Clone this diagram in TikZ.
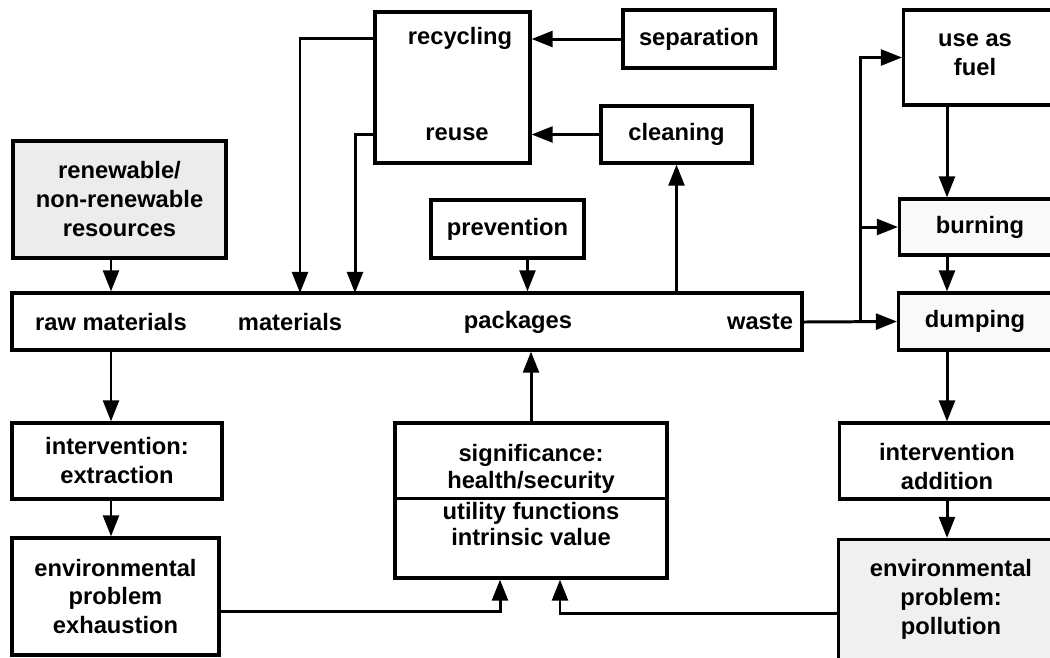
\documentclass[tikz,border=0pt]{standalone}
\usepackage{fontspec}
\setmainfont{Liberation Sans}
\usetikzlibrary{arrows.meta}

\begin{document}
\begin{tikzpicture}[x=0.02cm, y=-0.02cm,
    box/.style={draw, line width=1.8pt, rectangle, inner sep=0pt},
    txt/.style={font=\bfseries\fontsize{13.5}{16.5}\selectfont, align=center},
    arr/.style={line width=1.7pt, -{Triangle[length=12pt, width=9pt]}}]
    \useasboundingbox (0,0) rectangle (1050,657);

    % Top: recovery loop
    \node[box, minimum width=3.1cm, minimum height=3.02cm] (recycle) at (452.5,87.5) {};
    \node[txt] (recycling) at (460,38) {recycling};
    \node[txt] (reuse) at (457,134) {reuse};
    \node[box, txt, minimum width=3.04cm, minimum height=1.16cm] (separation) at (699,39) {separation};
    \node[box, txt, minimum width=3.02cm, minimum height=1.14cm] (cleaning) at (676.5,134.5) {cleaning};
    \node[box, txt, minimum width=3.06cm, minimum height=1.16cm] (prevention) at (507.5,229) {prevention};
    \node[box, txt, line width=2.4pt, fill=gray!15, minimum width=4.26cm, minimum height=2.34cm] (resources) at (119.5,199.5) {renewable/\\non-renewable\\resources};

    % Product chain
    \node[box, minimum width=15.8cm, minimum height=1.14cm] (chain) at (407,321.5) {};
    \node[txt] (raw) at (111,322) {raw materials};
    \node[txt] (materials) at (290,322) {materials};
    \node[txt] (packages) at (518,322) {packages};
    \node[txt] (waste) at (760,322) {waste};

    % Right: waste treatment
    \node[box, anchor=west, minimum width=3.36cm, minimum height=1.9cm] (fuelbox) at (902,57.5) {};
    \node[txt] (fuel) at (975,55) {use as\\fuel};
    \node[box, fill=gray!5, anchor=west, minimum width=3.24cm, minimum height=1.12cm] (burnbox) at (898,227) {};
    \node[txt] (burning) at (980,227) {burning};
    \node[box, fill=gray!5, anchor=west, minimum width=3.26cm, minimum height=1.14cm] (dumpbox) at (897,321.5) {};
    \node[txt] (dumping) at (975,321) {dumping};
    \node[box, anchor=west, minimum width=4.44cm, minimum height=1.52cm] (addbox) at (838,461) {};
    \node[txt] (addition) at (947,467) {intervention\\addition};
    \node[box, fill=gray!12, anchor=north west, minimum width=4.5cm, minimum height=2.7cm] (pollbox) at (837,538) {};
    \node[txt] (pollution) at (951,599) {environmental\\problem:\\pollution};

    % Bottom left and middle
    \node[box, txt, minimum width=4.2cm, minimum height=1.52cm] (extraction) at (117,461) {intervention:\\extraction};
    \node[box, txt, minimum width=4.14cm, minimum height=2.34cm] (exhaustion) at (115.5,596.5) {environmental\\problem\\exhaustion};
    \node[box, minimum width=5.44cm, minimum height=3.1cm] (significance) at (531,500.5) {};
    \node[txt, font=\bfseries\fontsize{13.5}{15}\selectfont] (sigtop) at (531,469) {significance:\\health/security};
    \node[txt, font=\bfseries\fontsize{13.5}{15}\selectfont] (sigbottom) at (531,524) {utility functions\\intrinsic value};
    \draw[line width=1.7pt] ([yshift=0.05cm]significance.west) -- ([yshift=0.05cm]significance.east);

    % Connectors
    \coordinate (mat1) at (300,293);
    \coordinate (mat2) at (355,293);
    \draw[arr] (recycle.west |- recycling) -| (mat1);
    \draw[arr] (recycle.west |- reuse) -| (mat2);
    \draw[arr] (separation.west) -- (separation.west -| recycle.east);
    \draw[arr] (cleaning.west) -- (cleaning.west -| recycle.east);
    \draw[arr] (cleaning.south |- chain.north) -- (cleaning.south);
    \draw[arr] ([xshift=0.4cm]prevention.south) -- ([xshift=0.4cm]prevention.south |- chain.north);
    \draw[arr] (raw |- resources.south) -- (raw |- chain.north);
    \draw[arr] (raw |- chain.south) -- (raw |- extraction.north);
    \draw[arr] (raw |- extraction.south) -- (raw |- exhaustion.north);
    \draw[arr] (significance.north) -- (significance.north |- chain.south);
    \draw[arr] ([yshift=-0.3cm]exhaustion.east) -| ([xshift=-0.62cm]significance.south);
    \draw[arr] ([yshift=-0.13cm]pollbox.west) -| ([xshift=0.58cm]significance.south);

    % Waste routes
    \coordinate (split) at (860,321.5);
    \draw[arr] (chain.east |- waste) -- (dumpbox.west);
    \draw[arr] (split) |- (fuelbox.west);
    \draw[arr] (split |- burnbox.west) -- (burnbox.west);
    \draw[arr] (addition |- fuelbox.south) -- (addition |- burnbox.north);
    \draw[arr] (addition |- burnbox.south) -- (addition |- dumpbox.north);
    \draw[arr] (addition |- dumpbox.south) -- (addition |- addbox.north);
    \draw[arr] (addition |- addbox.south) -- (addition |- pollbox.north);

\end{tikzpicture}
\end{document}
